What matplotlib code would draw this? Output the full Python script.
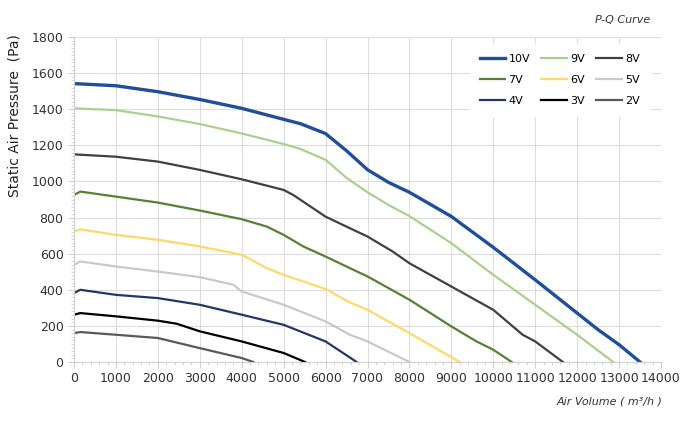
import matplotlib
matplotlib.use('Agg')
import matplotlib.pyplot as plt
from matplotlib.ticker import MultipleLocator

# P-Q curves: air volume (m3/h) vs static pressure (Pa)
q_10v = [0, 1000, 2000, 3000, 4000, 5000, 5400, 6000, 6500, 7000, 7500, 8000, 9000, 10000, 11000, 12000, 12500, 13000, 13500]
p_10v = [1542, 1530, 1497, 1454, 1405, 1344, 1320, 1265, 1170, 1065, 995, 940, 806, 635, 455, 271, 179, 96, 0]

q_9v = [0, 1000, 2000, 3000, 4000, 5000, 5400, 6000, 6500, 7000, 7500, 8000, 9000, 10000, 11000, 12000, 12860]
p_9v = [1405, 1395, 1360, 1318, 1266, 1207, 1180, 1120, 1020, 940, 870, 808, 658, 483, 317, 151, 0]

q_8v = [0, 1000, 2000, 3000, 4000, 5000, 5230, 6000, 6580, 7000, 7600, 8000, 9000, 10000, 10700, 11000, 11660]
p_8v = [1150, 1137, 1110, 1064, 1012, 953, 925, 805, 741, 695, 612, 547, 418, 289, 151, 114, 0]

q_7v = [0, 150, 1000, 2000, 3000, 4000, 4600, 5000, 5470, 6000, 6580, 7000, 8000, 9000, 9600, 10000, 10440]
p_7v = [925, 944, 916, 883, 839, 791, 750, 704, 640, 584, 520, 474, 345, 197, 114, 68, 0]

q_6v = [0, 150, 1000, 2000, 3000, 4000, 4600, 5000, 6000, 6580, 7000, 8000, 8480, 9200]
p_6v = [723, 735, 704, 677, 640, 594, 520, 483, 404, 330, 289, 160, 96, 0]

q_5v = [0, 150, 1000, 2000, 3000, 3800, 4000, 5000, 6000, 6580, 7000, 8000]
p_5v = [538, 557, 529, 501, 470, 428, 391, 317, 225, 151, 114, 0]

q_4v = [0, 150, 1000, 2000, 3000, 4000, 5000, 6000, 6580, 6740]
p_4v = [382, 400, 372, 354, 317, 262, 206, 114, 25, 0]

q_3v = [0, 150, 1000, 2000, 2450, 3000, 4000, 5000, 5510]
p_3v = [262, 271, 253, 229, 212, 170, 114, 50, 0]

q_2v = [0, 150, 1000, 2000, 3000, 4000, 4280]
p_2v = [160, 166, 151, 133, 77, 22, 0]

q_1v = [0, 0]
p_1v = [50, 0]

series = [
    ('10V', q_10v, p_10v, '#1f4e9a', 2.4),
    ('9V', q_9v, p_9v, '#a9d18e', 1.6),
    ('8V', q_8v, p_8v, '#404040', 1.6),
    ('7V', q_7v, p_7v, '#548235', 1.6),
    ('6V', q_6v, p_6v, '#ffd966', 1.6),
    ('5V', q_5v, p_5v, '#c9c9c9', 1.6),
    ('4V', q_4v, p_4v, '#203864', 1.6),
    ('3V', q_3v, p_3v, '#000000', 1.6),
    ('2V', q_2v, p_2v, '#595959', 1.6),
]

fig = plt.figure(figsize=(7, 4.21), dpi=100)
ax = fig.add_axes([0.1057, 0.1401, 0.8386, 0.772])

lines = {}
for name, q, p, c, lw in series:
    lines[name], = ax.plot(q, p, color=c, lw=lw, label=name, solid_joinstyle='round')
ax.plot(q_1v, p_1v, color='#333333', lw=1.2)

ax.set_xlim(0, 14000)
ax.set_ylim(0, 1800)
ax.xaxis.set_major_locator(MultipleLocator(1000))
ax.xaxis.set_minor_locator(MultipleLocator(200))
ax.yaxis.set_major_locator(MultipleLocator(200))
ax.yaxis.set_minor_locator(MultipleLocator(20))
ax.grid(True, which='major', color='#dddddd', lw=0.8)
ax.set_axisbelow(True)
for s in ['top', 'right']:
    ax.spines[s].set_visible(False)
for s in ['left', 'bottom']:
    ax.spines[s].set_color('#d0d0d0')
ax.tick_params(which='both', color='#d0d0d0', labelcolor='#333333', labelsize=9)
ax.tick_params(which='major', length=4)
ax.tick_params(which='minor', length=2)

ax.set_ylabel('Static Air Pressure  (Pa)', fontsize=10, color='#222222')
ax.yaxis.set_label_coords(-0.090, 0.757)
fig.text(0.947, 0.046, 'Air Volume ( m³/h )', ha='right', va='center',
         fontsize=8, style='italic', color='#333333')
fig.text(0.929, 0.952, 'P-Q Curve', ha='right', va='center',
         fontsize=8, style='italic', color='#333333')

order = ['10V', '7V', '4V', '9V', '6V', '3V', '8V', '5V', '2V']
ax.legend([lines[k] for k in order], order, ncol=3, loc='upper right',
          bbox_to_anchor=(0.99, 0.997), frameon=True, facecolor='white',
          edgecolor='white', framealpha=1, fontsize=8, handlelength=2.3,
          columnspacing=1.0, labelspacing=1.0, borderpad=0.9, handletextpad=0.3)

fig.savefig('out.png', dpi=100)
